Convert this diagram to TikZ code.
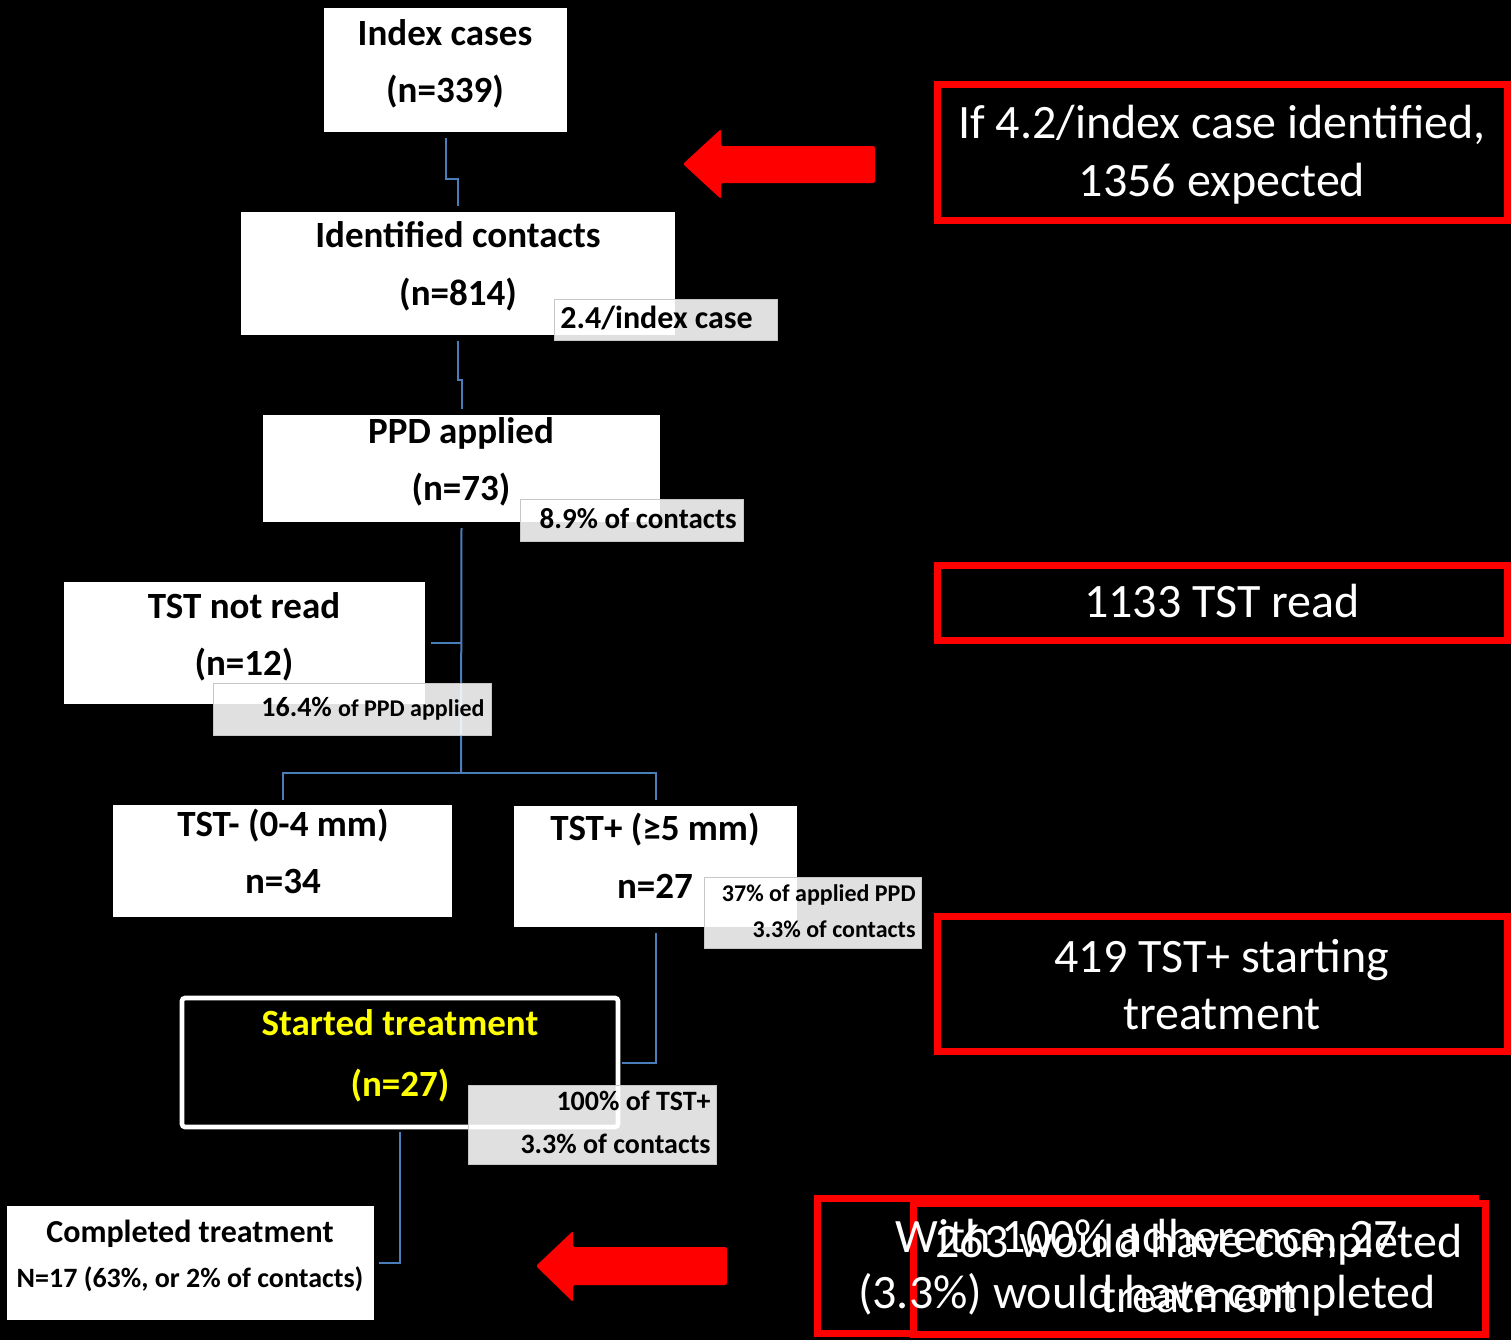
\documentclass[tikz,border=0pt]{standalone}
\usepackage{fontspec}
\setmainfont{Carlito}
\usetikzlibrary{fit}
\definecolor{conn}{HTML}{4A7EBB}
\definecolor{ylw}{HTML}{FFFF00}
\begin{document}
\begin{tikzpicture}[x=0.5pt,y=-0.5pt,
  wbox/.style={fill=white, inner sep=0pt, outer sep=0pt},
  lbl/.style={fill=white, fill opacity=0.88, draw=black!22, line width=0.5pt, inner sep=0pt},
  cn/.style={draw=conn, line width=1pt},
  big/.style={font=\fontsize{18.5}{20}\selectfont\bfseries, anchor=base, inner sep=0pt},
  ytxt/.style={big, text=ylw},
  lt/.style={font=\fontsize{14}{16}\selectfont\bfseries, anchor=base east, inner sep=0pt},
  ls/.style={font=\fontsize{12}{14}\selectfont\bfseries, anchor=base east, inner sep=0pt},
  rbox/.style={draw=red, line width=3.5pt, fill=black, inner sep=0pt},
  rtxt/.style={font=\fontsize{24}{26}\selectfont, text=white, anchor=base, inner sep=0pt},
  arr/.style={fill=red, rounded corners=1pt}
]
\useasboundingbox (0,0) rectangle (1511,1340);
\fill[black] (0,0) rectangle (1511,1340);

% connector junctions
\coordinate (j1) at (461,643);
\coordinate (j2) at (461,773);

% boxes
\node[wbox, fit={(324,8) (567,132)}] (idx) {};
\node[wbox, fit={(241,212) (675,335)}] (idc) {};
\node[wbox, fit={(263,415) (660,522)}] (ppd) {};
\node[wbox, fit={(64,582) (425,704)}] (tnr) {};
\node[wbox, fit={(113,805) (452,917)}] (tneg) {};
\node[wbox, fit={(514,806) (797,927)}] (tpos) {};
\node[fill=black, draw=white, line width=2.3pt, rounded corners=1.5pt, inner sep=0pt, fit={(182,998) (618,1127)}] (st) {};
\node[wbox, fit={(7,1206) (374,1320)}] (comp) {};

\draw[cn] ([yshift=-3pt]idx.south) -- ++(0,41) -| ([yshift=3pt]idc.north);
\draw[cn] ([yshift=-3pt]idc.south) -- ++(0,39) -| ([yshift=3pt]ppd.north);
\draw[cn] ([yshift=-3pt]ppd.south) -- (j2);
\draw[cn] (j1) -- ([xshift=3pt]tnr.east |- j1);
\draw[cn] (j2) -| ([yshift=2.5pt]tneg.north);
\draw[cn] (j2) -| ([yshift=3pt]tpos.north);
\draw[cn] ([yshift=-3pt]tpos.south) |- ([xshift=1pt]st.east);
\draw[cn] ([yshift=-1.5pt]st.south) |- ([xshift=2.5pt]comp.east);

% box texts
\node[big] (t1a) at (445,45) {Index cases};
\node[big] (t1b) at (445,102) {(n=339)};
\node[big] (t2a) at (458,247) {Identified contacts};
\node[big] (t2b) at (458,305) {(n=814)};
\node[big] (t3a) at (461,443) {PPD applied};
\node[big] (t3b) at (461,500) {(n=73)};
\node[big] (t4a) at (244,618) {TST not read};
\node[big] (t4b) at (244,675) {(n=12)};
\node[big] (t5a) at (283,836) {TST- (0-4 mm)};
\node[big] (t5b) at (283,893) {n=34};
\node[big] (t6a) at (655,840) {TST+ (≥5 mm)};
\node[big] (t6b) at (655,898) {n=27};
\node[ytxt] (t7a) at (400,1035) {Started treatment};
\node[ytxt] (t7b) at (400,1096) {(n=27)};
\node[font=\fontsize{16}{18}\selectfont\bfseries, anchor=base, inner sep=0pt] (t8a) at (190,1242) {Completed treatment};
\node[font=\fontsize{14}{16}\selectfont\bfseries, anchor=base, inner sep=0pt] (t8b) at (190,1287) {N=17 (63\%, or 2\% of contacts)};

% percentage labels
\node[lbl, fit={(554,299) (777,340)}] (l1) {};
\node[font=\fontsize{16}{18}\selectfont\bfseries, anchor=base west, inner sep=0pt] (l1t) at (560,328) {2.4/index case};
\node[lbl, fit={(520,499) (743,541)}] (l2) {};
\node[font=\fontsize{14.5}{16}\selectfont\bfseries, anchor=base east, inner sep=0pt] (l2t) at (737,528) {8.9\% of contacts};
\node[lbl, fit={(213,683) (491,735)}] (l3) {};
\node[lt] (l3t) at (485,716) {16.4\% {\fontsize{12}{14}\selectfont of PPD applied}};
\node[lbl, fit={(704,877) (921,948)}] (l4) {};
\node[ls] (l4a) at (916,901) {37\% of applied PPD};
\node[ls] (l4b) at (916,937) {3.3\% of contacts};
\node[lbl, fit={(468,1085) (716,1164)}] (l5) {};
\node[lt] (l5a) at (711,1110) {100\% of TST+};
\node[lt] (l5b) at (711,1153) {3.3\% of contacts};

% red boxes
\node[rbox, fit={(937,84.5) (1507,220.5)}] (r1) {};
\node[rtxt] (r1a) at (1222,138) {If 4.2/index case identified,};
\node[rtxt] (r1b) at (1222,196) {1356 expected};
\node[rbox, fit={(937,565) (1507,640)}] (r2) {};
\node[rtxt] (r2a) at (1222,617) {1133 TST read};
\node[rbox, fit={(937,916) (1507,1051)}] (r3) {};
\node[rtxt] (r3a) at (1222,972) {419 TST+ starting};
\node[rtxt] (r3b) at (1222,1029) {treatment};
\node[rbox, fit={(817.5,1198.5) (1475.5,1333.5)}] (ra) {};
\node[rbox, fit={(913,1203.5) (1485.5,1334.5)}] (rb) {};
\node[rtxt] (raa) at (1147,1252) {With 100\% adherence, 27};
\node[rtxt] (rab) at (1147,1308) {(3.3\%) would have completed};
\node[rtxt] (rba) at (1199,1257) {263 would have completed};
\node[rtxt] (rbb) at (1199,1312) {treatment};

% red arrows
\fill[arr] (875,146) -- (721,146) -- (721,129) -- (683,164) -- (721,199) -- (721,183) -- (875,183) -- cycle;
\fill[arr] (727,1247) -- (573,1247) -- (573,1231) -- (536,1266) -- (573,1302) -- (573,1285) -- (727,1285) -- cycle;
\end{tikzpicture}
\end{document}
